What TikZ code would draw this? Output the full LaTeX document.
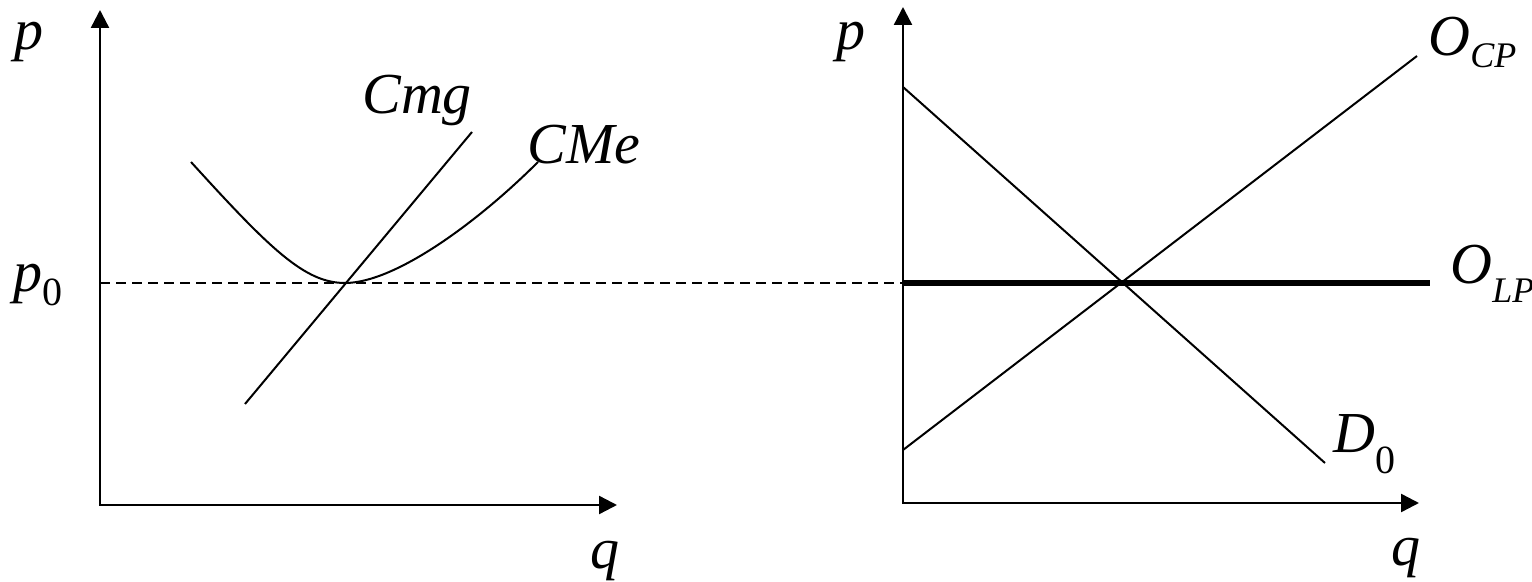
\documentclass[tikz,border=0pt]{standalone}
\usepackage{fontspec}
\setmainfont{Liberation Serif}
\usetikzlibrary{arrows.meta}
\newcommand{\bigsz}{\fontsize{29}{33}\selectfont}
\newcommand{\subd}[2]{\raisebox{#1}{\fontsize{20}{22}\selectfont\upshape #2}}
\newcommand{\subl}[2]{\raisebox{#1}{\fontsize{18}{20}\selectfont\itshape #2}}
\begin{document}
\begin{tikzpicture}[x=0.5pt,y=-0.5pt,
  axis/.style={line width=1.2pt,{Triangle[length=9pt,width=9pt]}-{Triangle[length=9pt,width=9pt]}},
  curve/.style={line width=1pt},
  thick line/.style={line width=3.3pt},
  guide/.style={line width=0.9pt,dash pattern=on 5pt off 3pt},
  lab/.style={inner sep=0pt,anchor=base west,font=\bigsz\itshape}]
\useasboundingbox (0,0) rectangle (1532,582);
% left panel
\coordinate (Y1) at (100,10);
\coordinate (O1) at (100,505);
\coordinate (X1) at (617,505);
\draw[axis] (Y1) -- (O1) -- (X1);
\coordinate (d1) at (100,283);
\coordinate (d2) at (903,283);
\draw[guide] (d1) -- (d2);
\coordinate (a1) at (191,162);
\coordinate (m) at (345,283);
\coordinate (a2) at (538,162);
\draw[curve] (a1) .. controls (271,250) and (305,283) .. (m) .. controls (395,283) and (478,222) .. (a2);
\coordinate (g1) at (245,404);
\coordinate (g2) at (472,132);
\draw[curve] (g1) -- (g2);
\node[lab] (pL) at (14,50) {p};
\node[lab] (p0) at (13,292) {p\subd{-7pt}{0}};
\node[lab] (cmg) at (362,114) {Cmg};
\node[lab] (cme) at (527,164) {CMe};
\node[lab] (qL) at (590,568) {q};
% right panel
\coordinate (Y2) at (903,7);
\coordinate (O2) at (903,503);
\coordinate (X2) at (1419,503);
\draw[axis] (Y2) -- (O2) -- (X2);
\coordinate (dd1) at (903,87);
\coordinate (dd2) at (1325,463);
\draw[curve] (dd1) -- (dd2);
\coordinate (s1) at (903,450);
\coordinate (s2) at (1417,56);
\draw[curve] (s1) -- (s2);
\coordinate (l2) at (1430,283);
\draw[thick line] (d2) -- (l2);
\node[lab] (pR) at (836,50) {p};
\node[lab] (ocp) at (1428,56) {O\subl{-6pt}{CP}};
\node[lab] (olp) at (1450,284) {O\subl{-9.5pt}{LP}};
\node[lab] (d0) at (1333,453) {D\subd{-10pt}{0}};
\node[lab] (qR) at (1391,566) {q};
\end{tikzpicture}
\end{document}
